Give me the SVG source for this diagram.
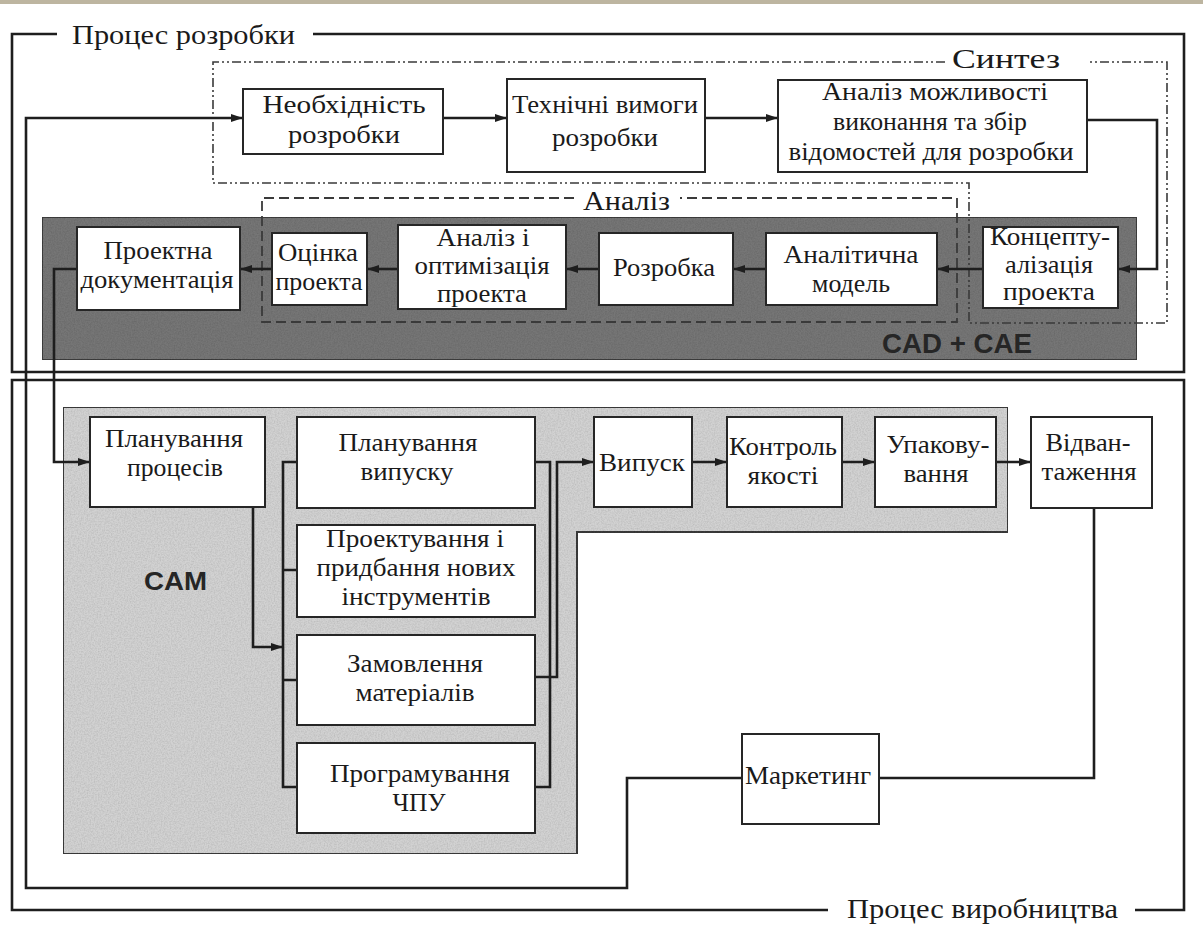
<svg xmlns="http://www.w3.org/2000/svg" width="1203" height="930" viewBox="0 0 1203 930">
<style>
.frame{fill:none;stroke:#1e1e1e;stroke-width:2.6}
.box{fill:#ffffff;stroke:#262626;stroke-width:2}
.t{font-family:"Liberation Serif","DejaVu Serif",serif;font-size:26px;fill:#1a1a1a;text-anchor:middle}
.lbl{font-family:"Liberation Serif","DejaVu Serif",serif;font-size:28px;fill:#1a1a1a}
.bold{font-family:"Liberation Sans","DejaVu Sans",sans-serif;font-weight:bold;fill:#262626}
.con{fill:none;stroke:#1e1e1e;stroke-width:2.6}
.arr{fill:none;stroke:#1e1e1e;stroke-width:2.6;marker-end:url(#ah)}
.dd{fill:none;stroke:#3a3a3a;stroke-width:1.6;stroke-dasharray:9 3 2 3 2 3}
.ds{fill:none;stroke:#3a3a3a;stroke-width:1.8;stroke-dasharray:10 5}
</style>
<defs>
<marker id="ah" viewBox="0 0 12 8" refX="12" refY="4" markerWidth="12" markerHeight="8" markerUnits="userSpaceOnUse" orient="auto">
<path d="M0,0 L12,4 L0,8 Z" fill="#1e1e1e"/>
</marker>
<filter id="grain" x="0" y="0" width="100%" height="100%">
<feTurbulence type="fractalNoise" baseFrequency="0.7" numOctaves="2" seed="4" result="n"/>
<feColorMatrix in="n" type="matrix" values="0 0 0 0 0  0 0 0 0 0  0 0 0 0 0  0 0 0 0.4 -0.14" result="a"/>
<feComposite in="a" in2="SourceGraphic" operator="in" result="b"/>
<feMerge><feMergeNode in="SourceGraphic"/><feMergeNode in="b"/></feMerge>
</filter>
</defs>
<rect x="0" y="0" width="1203" height="930" fill="#ffffff"/>
<rect x="0" y="0" width="1203" height="4" fill="#bdb5a0"/>

<!-- frames -->
<g id="frame-dev">
<path class="frame" d="M57,34 H12 V372 H1184 V34 H313"/>
<text class="lbl" x="72" y="44" textLength="223" lengthAdjust="spacingAndGlyphs">Процес розробки</text>
</g>
<g id="frame-prod">
<path class="frame" d="M1135,910 H1184 V380 H12 V910 H828"/>
<text class="lbl" x="847" y="918" textLength="271" lengthAdjust="spacingAndGlyphs">Процес виробництва</text>
</g>

<!-- CAD + CAE band -->
<g id="band-cadcae">
<rect x="42" y="217" width="1095" height="143" fill="#767676" stroke="#3c3c3c" stroke-width="2" filter="url(#grain)"/>
<text class="bold" x="882" y="353" font-size="27" textLength="150" lengthAdjust="spacingAndGlyphs">CAD + CAE</text>
</g>

<!-- CAM area -->
<g id="area-cam">
<path d="M63,407 H1008 V532 H577 V854 H63 Z" fill="#d2d2d2" stroke="#3a3a3a" stroke-width="2" filter="url(#grain)"/>
<text class="bold" x="144" y="590" font-size="25" textLength="63" lengthAdjust="spacingAndGlyphs">CAM</text>
</g>

<!-- Synthesis / Analysis regions -->
<g id="region-synthesis">
<path class="dd" d="M945,62 H213 V183 H969 V323 H1167 V62 H1088"/>
<text class="lbl" x="952" y="68" textLength="108" lengthAdjust="spacingAndGlyphs">Синтез</text>
</g>
<g id="region-analysis">
<path class="ds" d="M574,198 H262 V322 H957 V198 H680"/>
<text class="lbl" x="583" y="210" textLength="87" lengthAdjust="spacingAndGlyphs">Аналіз</text>
</g>

<!-- connectors -->
<g id="connectors">
<path class="arr" d="M443,118 H507"/>
<path class="arr" d="M705,118 H778"/>
<path class="arr" d="M1087,120 H1157 V269 H1118"/>
<path class="arr" d="M983,269 H937"/>
<path class="arr" d="M766,269 H733"/>
<path class="arr" d="M599,269 H566"/>
<path class="arr" d="M398,269 H367"/>
<path class="arr" d="M272,269 H240"/>
<path class="arr" d="M77,269 H54 V462 H90"/>
<path class="arr" d="M253,507 V647 H283"/>
<path class="con" d="M297,462 H283 V787 H297 M283,570 H297 M283,680 H297"/>
<path class="con" d="M535,462 H550 V787 H535"/>
<path class="arr" d="M535,677 H557 V462 H594"/>
<path class="arr" d="M692,462 H727"/>
<path class="arr" d="M842,462 H875"/>
<path class="arr" d="M996,462 H1031"/>
<path class="con" d="M1094,508 V778 H879"/>
<path class="arr" d="M742,778 H627 V888 H26 V118 H243"/>
</g>

<!-- synthesis nodes -->
<g id="n-neobkhidnist">
<rect class="box" x="243" y="89" width="200" height="65"/>
<text class="t" x="344" y="113" textLength="163" lengthAdjust="spacingAndGlyphs">Необхідність</text>
<text class="t" x="344" y="143" textLength="112" lengthAdjust="spacingAndGlyphs">розробки</text>
</g>
<g id="n-tekhnichni">
<rect class="box" x="507" y="79" width="198" height="93"/>
<text class="t" x="605" y="113" textLength="186" lengthAdjust="spacingAndGlyphs">Технічні вимоги</text>
<text class="t" x="605" y="146" textLength="106" lengthAdjust="spacingAndGlyphs">розробки</text>
</g>
<g id="n-analiz-mozhl">
<rect class="box" x="778" y="80" width="309" height="92"/>
<text class="t" x="935" y="100" textLength="226" lengthAdjust="spacingAndGlyphs">Аналіз можливості</text>
<text class="t" x="930" y="130" textLength="194" lengthAdjust="spacingAndGlyphs">виконання та збір</text>
<text class="t" x="931" y="160" textLength="285" lengthAdjust="spacingAndGlyphs">відомостей для розробки</text>
</g>

<!-- band nodes -->
<g id="n-proektna-dok">
<rect class="box" x="77" y="227" width="163" height="83"/>
<text class="t" x="158" y="259" textLength="109" lengthAdjust="spacingAndGlyphs">Проектна</text>
<text class="t" x="157" y="288" textLength="153" lengthAdjust="spacingAndGlyphs">документація</text>
</g>
<g id="n-otsinka">
<rect class="box" x="272" y="233" width="95" height="72"/>
<text class="t" x="318" y="261" textLength="80" lengthAdjust="spacingAndGlyphs">Оцінка</text>
<text class="t" x="319" y="290" textLength="87" lengthAdjust="spacingAndGlyphs">проекта</text>
</g>
<g id="n-analiz-opt">
<rect class="box" x="398" y="225" width="168" height="84"/>
<text class="t" x="483" y="246" textLength="93" lengthAdjust="spacingAndGlyphs">Аналіз і</text>
<text class="t" x="482" y="274" textLength="135" lengthAdjust="spacingAndGlyphs">оптимізація</text>
<text class="t" x="482" y="302" textLength="90" lengthAdjust="spacingAndGlyphs">проекта</text>
</g>
<g id="n-rozrobka">
<rect class="box" x="599" y="233" width="134" height="72"/>
<text class="t" x="664" y="276" textLength="102" lengthAdjust="spacingAndGlyphs">Розробка</text>
</g>
<g id="n-analitychna">
<rect class="box" x="766" y="233" width="171" height="72"/>
<text class="t" x="851" y="263" textLength="135" lengthAdjust="spacingAndGlyphs">Аналітична</text>
<text class="t" x="851" y="292" textLength="78" lengthAdjust="spacingAndGlyphs">модель</text>
</g>
<g id="n-kontseptualizatsiya">
<rect class="box" x="983" y="227" width="135" height="81"/>
<text class="t" x="1050" y="245" textLength="120" lengthAdjust="spacingAndGlyphs">Концепту-</text>
<text class="t" x="1049" y="273" textLength="88" lengthAdjust="spacingAndGlyphs">алізація</text>
<text class="t" x="1049" y="300" textLength="92" lengthAdjust="spacingAndGlyphs">проекта</text>
</g>

<!-- CAM nodes -->
<g id="n-planuv-protses">
<rect class="box" x="90" y="417" width="175" height="90"/>
<text class="t" x="174" y="447" textLength="138" lengthAdjust="spacingAndGlyphs">Планування</text>
<text class="t" x="175" y="476" textLength="96" lengthAdjust="spacingAndGlyphs">процесів</text>
</g>
<g id="n-planuv-vypusku">
<rect class="box" x="297" y="417" width="238" height="91"/>
<text class="t" x="408" y="451" textLength="139" lengthAdjust="spacingAndGlyphs">Планування</text>
<text class="t" x="407" y="480" textLength="93" lengthAdjust="spacingAndGlyphs">випуску</text>
</g>
<g id="n-proektuvannya">
<rect class="box" x="297" y="525" width="238" height="92"/>
<text class="t" x="415" y="547" textLength="178" lengthAdjust="spacingAndGlyphs">Проектування і</text>
<text class="t" x="416" y="576" textLength="199" lengthAdjust="spacingAndGlyphs">придбання нових</text>
<text class="t" x="416" y="605" textLength="149" lengthAdjust="spacingAndGlyphs">інструментів</text>
</g>
<g id="n-zamovlennya">
<rect class="box" x="297" y="635" width="238" height="90"/>
<text class="t" x="415" y="672" textLength="136" lengthAdjust="spacingAndGlyphs">Замовлення</text>
<text class="t" x="415" y="701" textLength="119" lengthAdjust="spacingAndGlyphs">матеріалів</text>
</g>
<g id="n-programuvannya">
<rect class="box" x="297" y="743" width="238" height="90"/>
<text class="t" x="420" y="782" textLength="180" lengthAdjust="spacingAndGlyphs">Програмування</text>
<text class="t" x="419" y="811" textLength="53" lengthAdjust="spacingAndGlyphs">ЧПУ</text>
</g>
<g id="n-vypusk">
<rect class="box" x="594" y="417" width="98" height="90"/>
<text class="t" x="642" y="471" textLength="86" lengthAdjust="spacingAndGlyphs">Випуск</text>
</g>
<g id="n-kontrol">
<rect class="box" x="727" y="417" width="115" height="90"/>
<text class="t" x="783" y="455" textLength="108" lengthAdjust="spacingAndGlyphs">Контроль</text>
<text class="t" x="783" y="484" textLength="71" lengthAdjust="spacingAndGlyphs">якості</text>
</g>
<g id="n-upakovuvannya">
<rect class="box" x="875" y="417" width="121" height="90"/>
<text class="t" x="938" y="453" textLength="103" lengthAdjust="spacingAndGlyphs">Упакову-</text>
<text class="t" x="936" y="482" textLength="65" lengthAdjust="spacingAndGlyphs">вання</text>
</g>
<g id="n-vidvantazhennya">
<rect class="box" x="1031" y="417" width="121" height="91"/>
<text class="t" x="1088" y="451" textLength="85" lengthAdjust="spacingAndGlyphs">Відван-</text>
<text class="t" x="1089" y="480" textLength="95" lengthAdjust="spacingAndGlyphs">таження</text>
</g>
<g id="n-marketynh">
<rect class="box" x="742" y="734" width="137" height="90"/>
<text class="t" x="808" y="784" textLength="126" lengthAdjust="spacingAndGlyphs">Маркетинг</text>
</g>
</svg>
